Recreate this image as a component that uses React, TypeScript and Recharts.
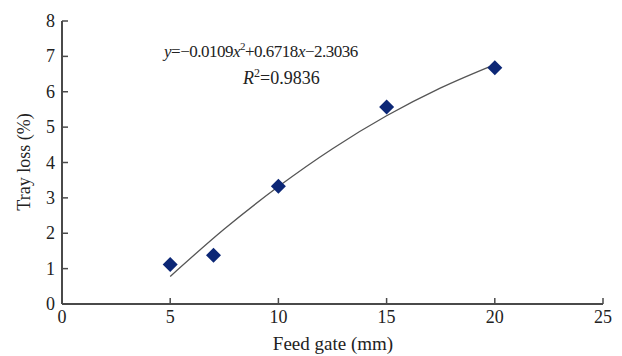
import { ComposedChart, Scatter, Line, XAxis, YAxis } from 'recharts';

// measured points
const gateMm = [5, 7, 10, 15, 20];
const trayLoss = [1.12, 1.38, 3.33, 5.57, 6.68];

// fitted curve as drawn in the figure
const trendX = [5, 7.5, 10, 12.5, 15, 17.5, 20];
const trendY = [0.78, 2.12, 3.32, 4.39, 5.32, 6.11, 6.77];

const xTicks = [0, 5, 10, 15, 20, 25];
const yTicks = [0, 1, 2, 3, 4, 5, 6, 7, 8];

const points = gateMm.map((x, i) => ({ x, y: trayLoss[i] }));
const trend = trendX.map((x, i) => ({ x, fit: trendY[i] }));

const FONT = "'Liberation Serif', serif";
const txt = { fontFamily: FONT, fontSize: 18, fill: '#222' };
const AXIS = '#4a4a4a';
const MARK = '#0c2776';

const Diamond = (props: any) => {
  const { cx, cy } = props;
  const r = 7.5;
  return <polygon points={`${cx},${cy - r} ${cx + r},${cy} ${cx},${cy + r} ${cx - r},${cy}`} fill={MARK} />;
};

const YTick = (props: any) => {
  const { x, y, payload } = props;
  return (
    <g>
      <line x1={x} x2={x + 6} y1={y} y2={y} stroke={AXIS} strokeWidth={1.5} />
      <text x={x - 7} y={y} dy={6} textAnchor="end" style={txt}>
        {payload.value}
      </text>
    </g>
  );
};

const XTick = (props: any) => {
  const { x, y, payload } = props;
  return (
    <g>
      <line x1={x} x2={x} y1={y} y2={y - 6} stroke={AXIS} strokeWidth={1.5} />
      <text x={x} y={y + 19} textAnchor="middle" style={txt}>
        {payload.value}
      </text>
    </g>
  );
};

export default function App() {
  return (
    <div style={{ position: 'absolute', left: 0, top: 0, width: 622, height: 356, background: '#fff' }}>
      <ComposedChart width={622} height={356} margin={{ top: 21, right: 19, bottom: 22, left: 0 }}>
        <XAxis
          dataKey="x"
          type="number"
          domain={[0, 25]}
          ticks={xTicks}
          height={30}
          tick={<XTick />}
          tickLine={false}
          tickSize={0}
          tickMargin={0}
          axisLine={{ stroke: AXIS, strokeWidth: 2 }}
          allowDuplicatedCategory={false}
        />
        <YAxis
          type="number"
          domain={[0, 8]}
          ticks={yTicks}
          width={62}
          tick={<YTick />}
          tickLine={false}
          tickSize={0}
          tickMargin={0}
          axisLine={{ stroke: AXIS, strokeWidth: 2 }}
        />
        <Line
          data={trend}
          dataKey="fit"
          type="monotone"
          stroke="#555"
          strokeWidth={1.3}
          dot={false}
          isAnimationActive={false}
        />
        <Scatter data={points} dataKey="y" shape={<Diamond />} isAnimationActive={false} />
      </ComposedChart>
      <svg width={622} height={356} style={{ position: 'absolute', left: 0, top: 0, pointerEvents: 'none' }}>
        <text x={164} y={57} style={{ ...txt, fontSize: 17, letterSpacing: -0.5 }}>
          <tspan fontStyle="italic">y</tspan>
          <tspan>=−0.0109</tspan>
          <tspan fontStyle="italic">x</tspan>
          <tspan fontSize={11} dy={-7}>2</tspan>
          <tspan dy={7}>+0.6718</tspan>
          <tspan fontStyle="italic">x</tspan>
          <tspan>−2.3036</tspan>
        </text>
        <text x={243} y={84} style={txt}>
          <tspan fontStyle="italic">R</tspan>
          <tspan fontSize={12} dy={-7}>2</tspan>
          <tspan dy={7}>=0.9836</tspan>
        </text>
        <text x={30} y={162} transform="rotate(-90 30 162)" textAnchor="middle" style={txt}>
          Tray loss (%)
        </text>
        <text x={333} y={350} textAnchor="middle" style={{ ...txt, fontSize: 19 }}>
          Feed gate (mm)
        </text>
      </svg>
    </div>
  );
}
